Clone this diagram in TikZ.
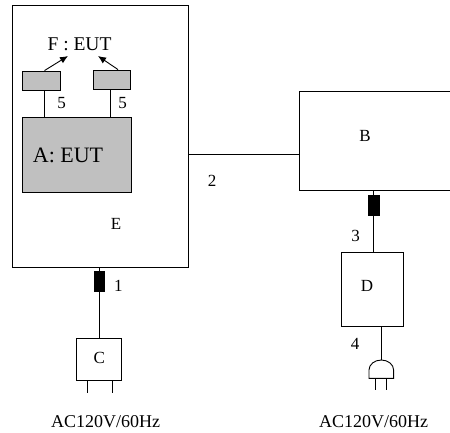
\documentclass[tikz,border=0pt]{standalone}
\usepackage{fontspec}
\setmainfont{Liberation Serif}
\usetikzlibrary{arrows.meta,calc}
\definecolor{boxgray}{RGB}{192,192,192}
\begin{document}
\begin{tikzpicture}[x=1pt,y=-1pt,
  line width=0.9pt,
  box/.style={draw,rectangle,inner sep=0pt},
  graybox/.style={box,fill=boxgray},
  ferrite/.style={rectangle,fill=black,draw=black,inner sep=0pt,minimum width=10pt,minimum height=20pt},
  lab/.style={inner sep=0pt,anchor=base,font=\fontsize{17}{19}\selectfont},
  bigl/.style={inner sep=0pt,anchor=base,font=\fontsize{18}{20}\selectfont},
  arr/.style={-{Latex[length=8pt,width=7pt]}}]
\useasboundingbox (0,0) rectangle (450,432);
% E enclosure
\node[box,minimum width=176pt,minimum height=262pt] (E) at (100,136) {};
\node[lab] (Elab) at (116,229.3) {E};
% A: EUT
\node[graybox,minimum width=109pt,minimum height=75pt] (A) at (76.5,154.5) {};
\node[inner sep=0pt,anchor=base,font=\fontsize{22}{24}\selectfont] (Alab) at (68,162.3) {A: EUT};
% small boxes
\node[graybox,minimum width=38pt,minimum height=19pt] (s1) at (41,80.5) {};
\node[graybox,minimum width=37pt,minimum height=19pt] (s2) at (111.5,79.5) {};
\draw ([xshift=3pt]s1.south) -- ([xshift=3pt]s1.south |- A.north);
\draw ([xshift=-1.5pt]s2.south) -- ([xshift=-1.5pt]s2.south |- A.north);
\node[lab] (n5a) at (61.7,108.3) {5};
\node[lab] (n5b) at (122.7,108.3) {5};
% F : EUT
\node[inner sep=0pt,anchor=base,font=\fontsize{19.5}{21}\selectfont] (F) at (79.5,50) {F : EUT};
\coordinate (fL) at (68,56);
\coordinate (fR) at (98,56);
\draw[arr] ([xshift=3.5pt]s1.north) -- (fL);
\draw[arr] ([xshift=6.5pt]s2.north) -- (fR);
% B (open to the right)
\coordinate (Btl) at (451,91);
\coordinate (Bbl) at (299,190);
\draw (Btl) -- (299,91) -- (Bbl) -- (451,190);
\node[lab] (Blab) at (365,141.7) {B};
\coordinate (B2) at (299,154);
\draw (B2) -- (B2 -| E.east);
\node[lab] (n2) at (212,186.7) {2};
% left mains: ferrite 1 and C
\node[ferrite,minimum width=10.5pt] (f1) at (99.3,281.7) {};
\draw (f1.north) -- (f1.north |- E.south);
\node[box,minimum width=45pt,minimum height=42pt] (C) at (99.3,359) {};
\draw (f1.south) -- (C.north);
\node[lab] (n1) at (118.3,291.7) {1};
\node[lab] (Clab) at (99.3,363.3) {C};
\draw ([xshift=-11.5pt]C.south) -- ++(0,13);
\draw ([xshift=13.5pt]C.south) -- ++(0,13);
\node[bigl] (acL) at (105.5,427) {AC120V/60Hz};
% right: ferrite 3, D, plug
\node[ferrite,minimum width=11pt] (f3) at (373.5,205.5) {};
\coordinate (Bb) at (373.5,190);
\draw (f3.north) -- (Bb);
\node[box,minimum width=62.5pt,minimum height=74pt] (D) at (372.3,289) {};
\draw (f3.south) -- (f3.south |- D.north);
\node[lab] (n3) at (355.7,241) {3};
\node[lab] (Dlab) at (367,291) {D};
\coordinate (pl) at (381.3,360);
\draw (pl) -- (pl |- D.south);
\node[lab] (n4) at (355,349) {4};
\draw (369,378.3) -- (369,370) arc[start angle=180,end angle=0,x radius=12.3,y radius=-10] -- (393.6,378.3) -- cycle;
\draw (375.8,378.3) -- ++(0,12);
\draw (386.8,378.3) -- ++(0,12);
\node[bigl] (acR) at (373.5,427) {AC120V/60Hz};
\end{tikzpicture}
\end{document}
